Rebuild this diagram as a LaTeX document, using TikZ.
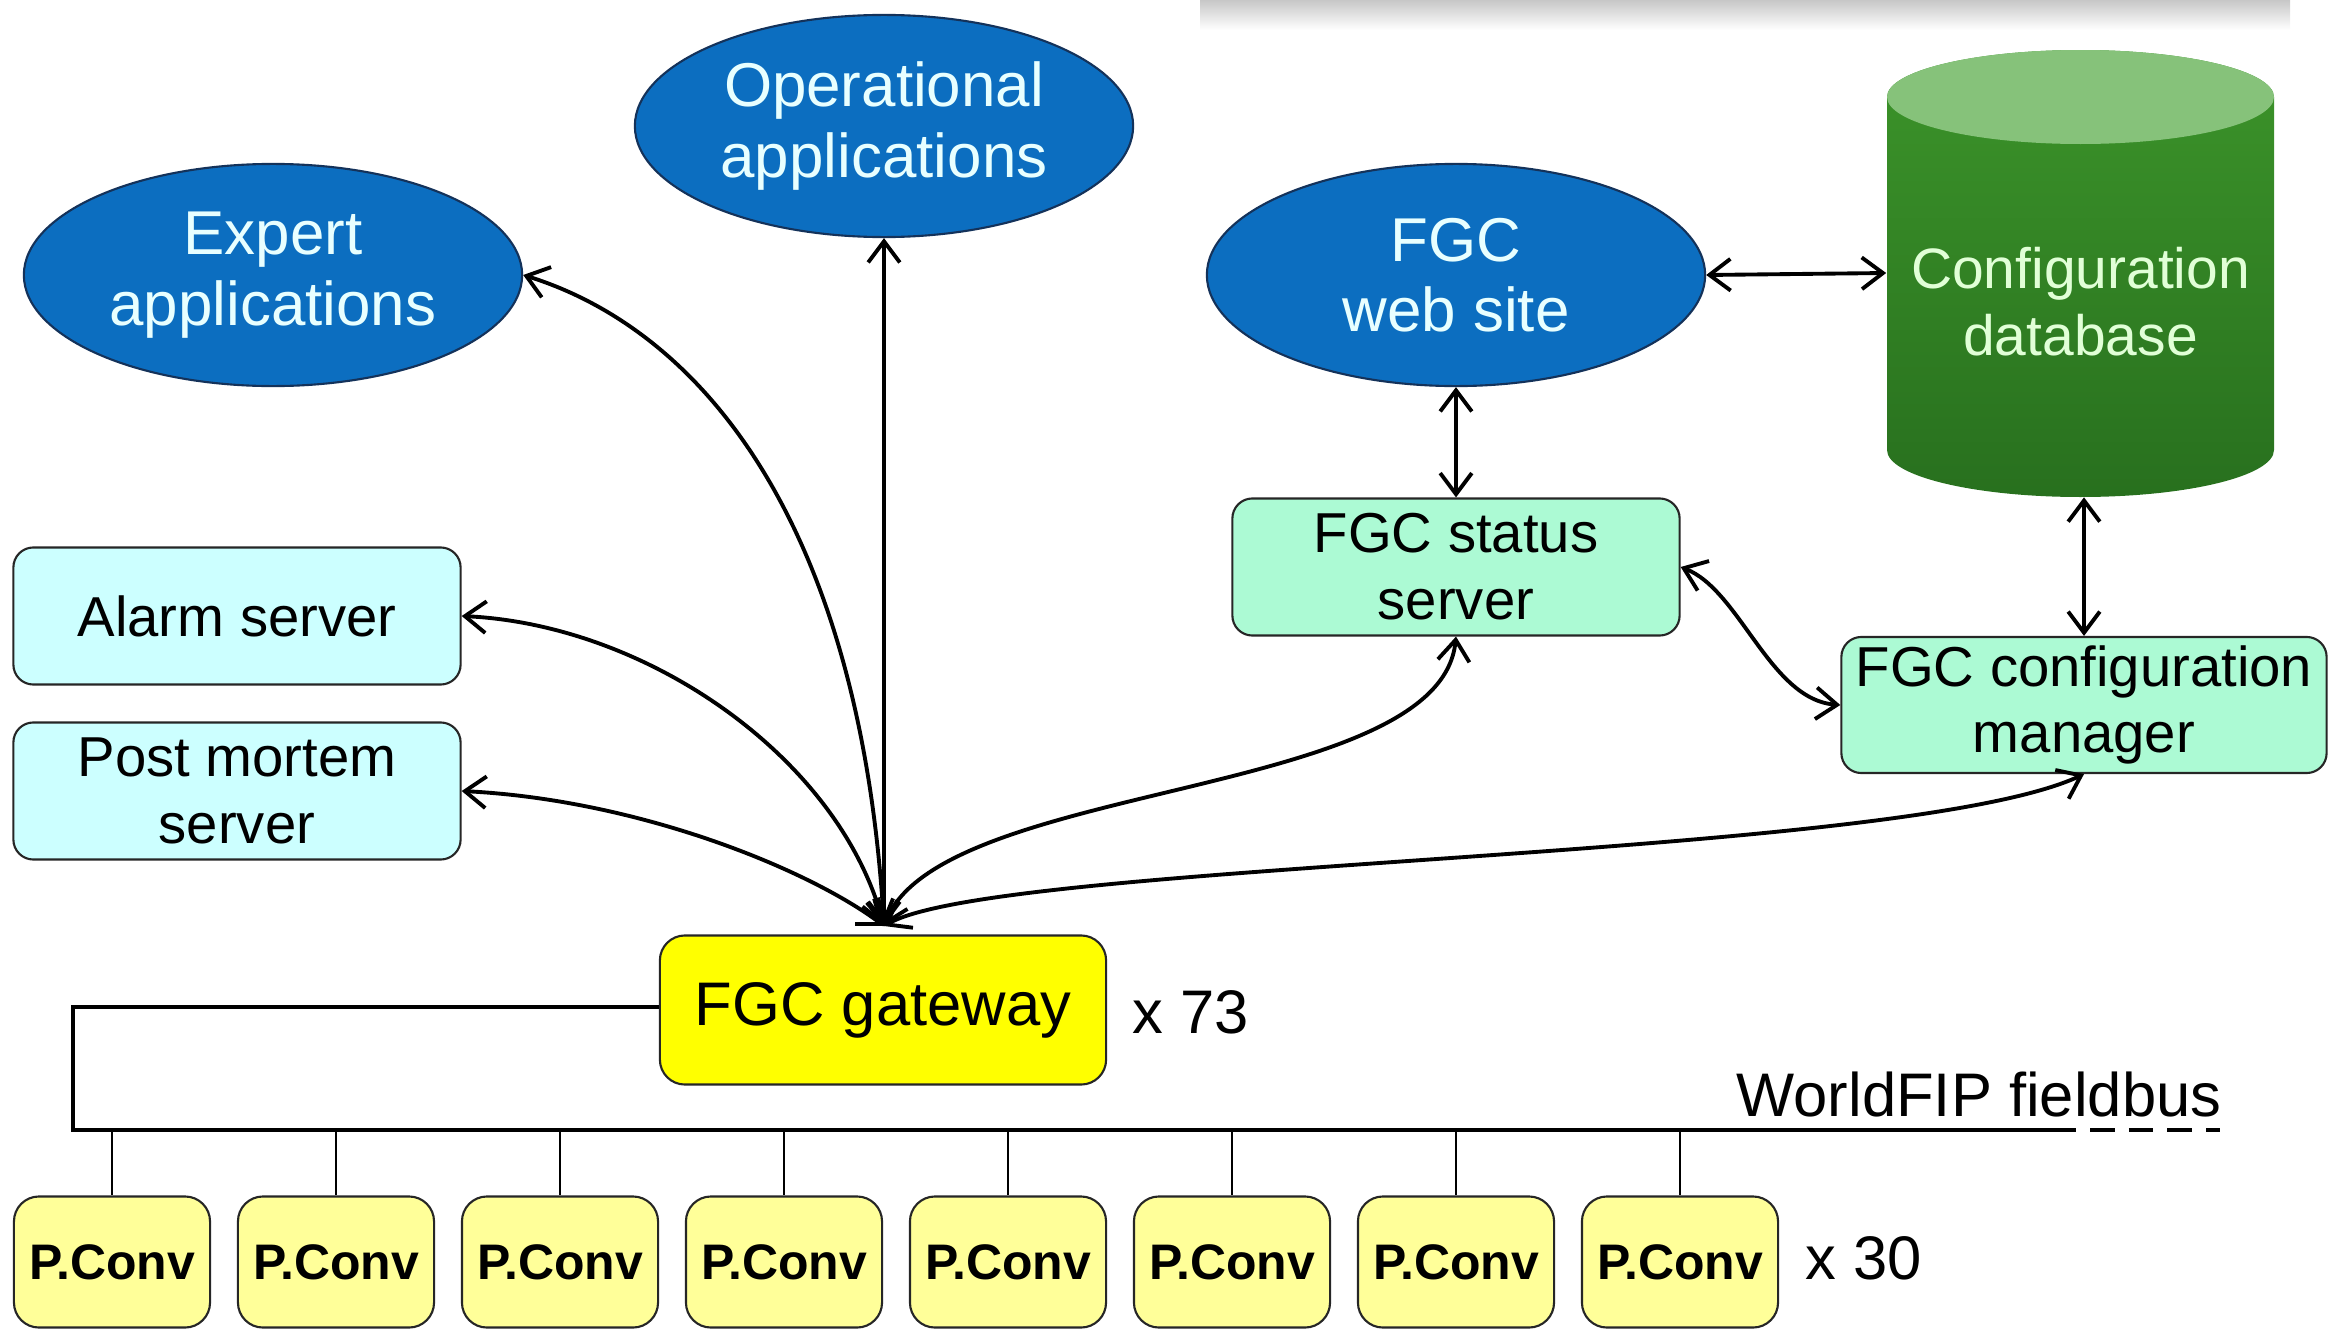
\documentclass[tikz,border=0pt]{standalone}
\usepackage{fontspec}
\setmainfont{Liberation Sans}
\usetikzlibrary{shapes.geometric,arrows.meta,calc}
\definecolor{ellblue}{RGB}{12,110,192}
\definecolor{ellborder}{RGB}{20,50,90}
\definecolor{elltext}{RGB}{232,255,255}
\definecolor{srvcyan}{RGB}{204,255,255}
\definecolor{srvmint}{RGB}{172,250,212}
\definecolor{gwyellow}{RGB}{255,255,0}
\definecolor{pcyellow}{RGB}{255,255,153}
\definecolor{dbtop}{RGB}{134,194,122}
\definecolor{dbbodyA}{RGB}{60,148,42}
\definecolor{dbbodyB}{RGB}{40,112,30}
\definecolor{dbtext}{RGB}{225,255,215}
\tikzset{
  ellnode/.style={ellipse, draw=ellborder, line width=0.6pt, fill=ellblue,
    text=elltext, minimum width=4.98cm, minimum height=2.22cm, inner sep=0pt,
    align=center, font=\fontsize{17.6}{20}\selectfont},
  srvbox/.style={rectangle, rounded corners=0.2cm, draw=black!85, line width=0.6pt,
    fill=srvcyan, minimum width=4.47cm, minimum height=1.37cm, inner sep=0pt,
    align=center, font=\fontsize{16}{19}\selectfont},
  fgcbox/.style={srvbox, fill=srvmint},
  gwbox/.style={rectangle, rounded corners=0.25cm, draw=black!85, line width=0.6pt,
    fill=gwyellow, minimum width=4.46cm, minimum height=1.49cm, inner sep=0pt,
    font=\fontsize{17.5}{20}\selectfont},
  pcbox/.style={rectangle, rounded corners=0.25cm, draw=black!85, line width=0.6pt,
    fill=pcyellow, minimum width=1.96cm, minimum height=1.31cm, inner sep=0pt,
    font=\bfseries\fontsize{14.2}{17}\selectfont},
  plain/.style={inner sep=0pt, font=\fontsize{17.5}{20}\selectfont},
  conn/.style={line width=1.1pt, {Straight Barb[length=6pt,width=9pt]}-{Straight Barb[length=6pt,width=9pt]}},
  bus/.style={line width=1.3pt},
  stub/.style={line width=0.5pt}
}
\begin{document}
\begin{tikzpicture}[x=0.01cm,y=-0.01cm]
\useasboundingbox (0,0) rectangle (2341,1330);
% faint shadow band at top
\shade[top color=black!22, bottom color=white] (1200,0) rectangle (2290,30);

% ellipses
\node[ellnode] (exp) at (273,275) {Expert\\applications};
\node[ellnode] (op) at (884,126) {Operational\\applications};
\node[ellnode] (web) at (1456,275) {FGC\\web site};

% cylinder
\shade[top color=dbbodyA, bottom color=dbbodyB]
  (1887,97) -- (1887,450) arc[start angle=180, end angle=360, x radius=193.5, y radius=-47]
  -- (2274,97) arc[start angle=0, end angle=180, x radius=193.5, y radius=-47] -- cycle;
\fill[dbtop] (2080.5,97) ellipse[x radius=193.5, y radius=47];
\node[minimum width=3.87cm, minimum height=4.47cm, inner sep=0pt] (db) at (2080.5,273) {};
\node[text=dbtext, align=center, inner sep=0pt, font=\fontsize{16.2}{19}\selectfont] (dbt) at (2080.5,302) {Configuration\\database};

% boxes
\node[srvbox] (al) at (237,616) {Alarm server};
\node[srvbox] (pm) at (237,791) {Post mortem\\server};
\node[fgcbox] (ss) at (1456,567) {FGC status\\server};
\node[fgcbox, minimum width=4.85cm, minimum height=1.36cm] (cm) at (2084,705) {FGC configuration\\manager};
\node[gwbox] (gw) at (883,1010) {FGC gateway};
\node[plain, anchor=west] (x73) at (1132,1012) {x 73};

% bus
\coordinate (bl) at (73,1007);
\coordinate (bb) at (73,1130);
\coordinate (be) at (2076,1130);
\coordinate (bd) at (2220,1130);
\draw[bus] (gw.west |- bl) -- (bl) -- (bb) -- (be);
\draw[bus, dash pattern=on 7pt off 4pt, dash phase=7pt] (be) -- (bd);
\node[plain, anchor=south east] (wf) at (2222,1118) {WorldFIP fieldbus};

% P.Conv nodes
\foreach \i in {0,...,7}{
  \node[pcbox] (pc\i) at (112+224*\i,1262) {P.Conv};
  \draw[stub] (pc\i.north |- bb) -- (pc\i.north);
}
\node[plain, anchor=west] (x30) at (1805,1258) {x 30};

% connectors
\coordinate (hub) at (884,926);
\draw[conn] (hub) -- (op.south);
\draw[conn] (hub) .. controls (860,520) and (700,330) .. (exp.east);
\draw[conn] (hub) .. controls (840,760) and (650,625) .. (al.east);
\draw[conn] (hub) .. controls (810,870) and (640,800) .. (pm.east);
\draw[conn] (hub) .. controls (940,780) and (1440,800) .. (ss.south);
\draw[conn] (hub) .. controls (1000,860) and (1900,860) .. (cm.south);
\draw[conn] (ss.east) .. controls (1740,590) and (1770,700) .. (cm.west);
\draw[conn] (web.south) -- (ss.north);
\draw[conn] (web.east) -- (db.west);
\draw[conn] (cm.north |- db.south) -- (cm.north);
\end{tikzpicture}
\end{document}
